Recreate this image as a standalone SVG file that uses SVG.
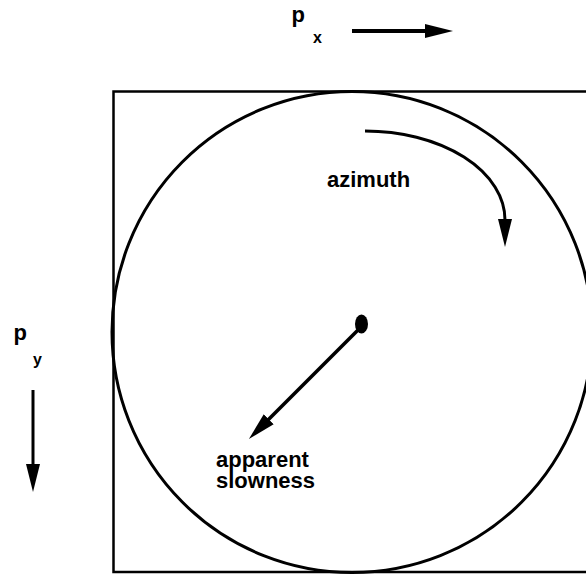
<svg xmlns="http://www.w3.org/2000/svg" width="586" height="574" viewBox="0 0 586 574">
<defs>
<style>
.t{font-family:"Liberation Sans",Arial,sans-serif;font-weight:bold;fill:#000}
.l{fill:none;stroke:#000}
</style>
<marker id="ah" viewBox="0 -8 28 16" markerWidth="28" markerHeight="16" refX="1" refY="0" orient="auto" markerUnits="userSpaceOnUse">
<path d="M0,-7 L28,0 L0,7 z" fill="#000"/>
</marker>
</defs>
<rect width="586" height="574" fill="#fff"/>
<g id="frame">
<rect class="l" x="113.5" y="91.5" width="478" height="480.5" stroke-width="2.5"/>
</g>
<g id="circle">
<ellipse class="l" cx="352" cy="332" rx="240" ry="240.5" stroke-width="3"/>
</g>
<g id="center">
<ellipse cx="361.5" cy="324" rx="6.5" ry="9.5" fill="#000"/>
</g>
<g id="labels">
<text class="t" x="291.5" y="22" font-size="22">p</text>
<text class="t" x="313" y="43" font-size="16">x</text>
<text class="t" x="13.5" y="339.5" font-size="22">p</text>
<text class="t" x="33" y="365" font-size="16">y</text>
<text class="t" x="327" y="187" font-size="22">azimuth</text>
<text class="t" x="216" y="467" font-size="22">apparent</text>
<text class="t" x="216" y="488" font-size="22">slowness</text>
</g>
<g id="connectors">
<line class="l" x1="352" y1="31" x2="426" y2="31" stroke-width="4" marker-end="url(#ah)"/>
<line class="l" x1="33" y1="390" x2="33" y2="465" stroke-width="3" marker-end="url(#ah)"/>
<path class="l" d="M365,131 A140,89 0 0 1 505,220" stroke-width="3" marker-end="url(#ah)"/>
<line class="l" x1="358" y1="330" x2="268" y2="420" stroke-width="3.5" marker-end="url(#ah)"/>
</g>
</svg>
